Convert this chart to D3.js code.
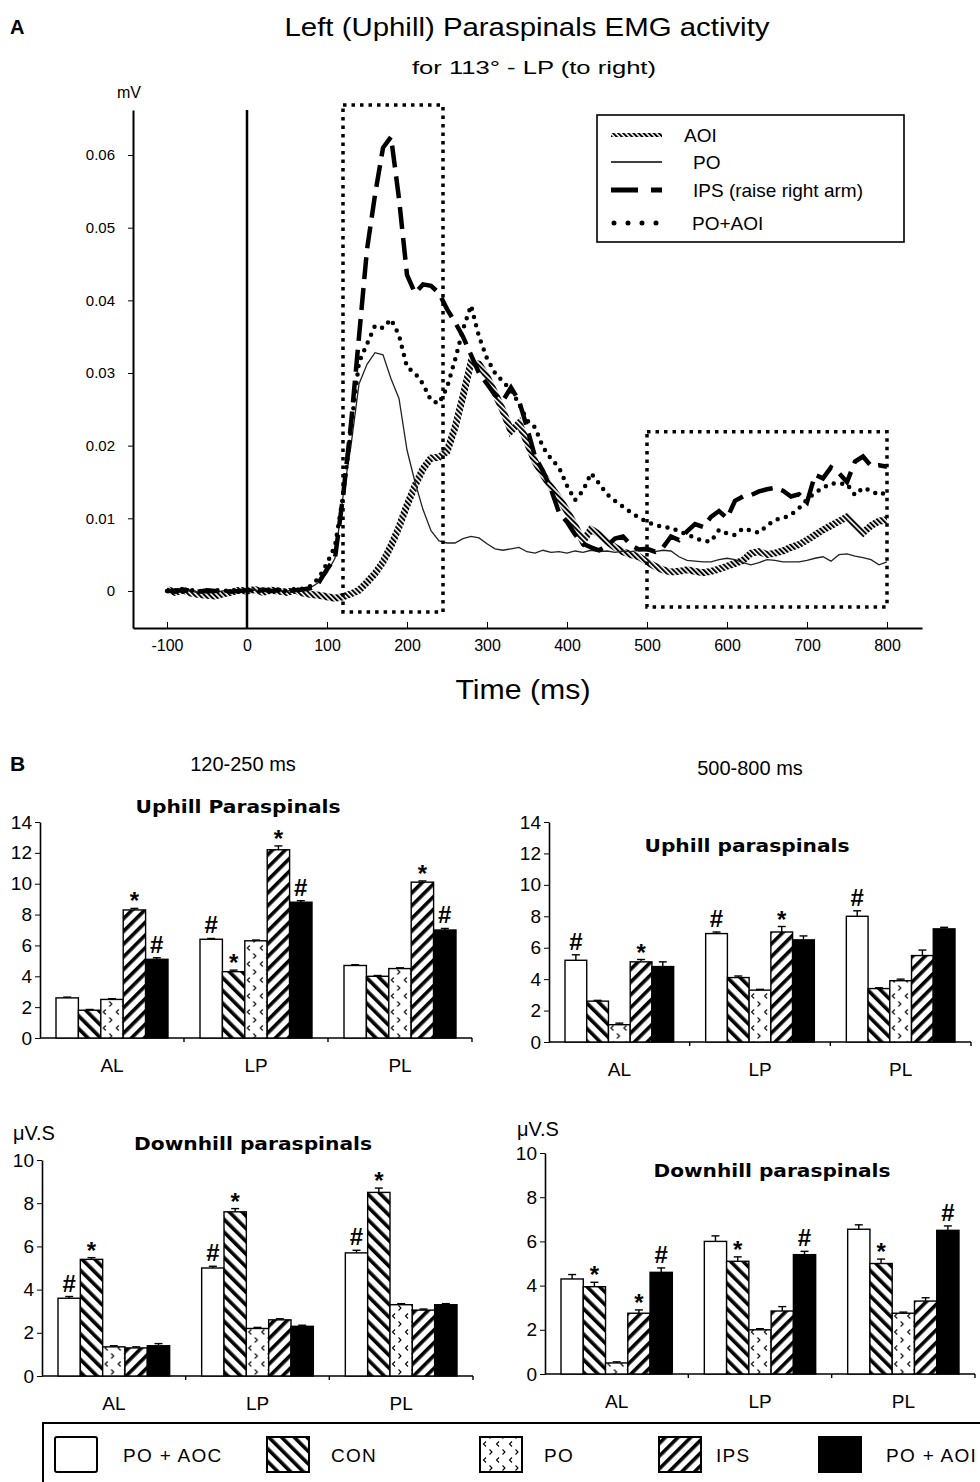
<!DOCTYPE html>
<html>
<head>
<meta charset="utf-8">
<script src="https://cdn.jsdelivr.net/npm/d3@7"></script>
<style>
  body { margin: 0; background: #fff; }
  svg { display: block; font-family: "Liberation Sans", Arial, sans-serif; }
  .narrow { font-family: "Liberation Sans Narrow", "Arial Narrow", "Liberation Sans", Arial, sans-serif; }
</style>
</head>
<body>
<div id="canvas"></div>
<script>
// ---- panel A : EMG traces (mV), one sample every 10 ms ----
var times = [
  -100, -90, -80, -70, -60, -50, -40, -30, -20, -10,
  0, 10, 20, 30, 40, 50, 60, 70, 80, 90,
  100, 110, 120, 130, 140, 150, 160, 170, 180, 190,
  200, 210, 220, 230, 240, 250, 260, 270, 280, 290,
  300, 310, 320, 330, 340, 350, 360, 370, 380, 390,
  400, 410, 420, 430, 440, 450, 460, 470, 480, 490,
  500, 510, 520, 530, 540, 550, 560, 570, 580, 590,
  600, 610, 620, 630, 640, 650, 660, 670, 680, 690,
  700, 710, 720, 730, 740, 750, 760, 770, 780, 790,
  800
];
var aoi = [
  0.0002, -0.0002, 0.0001, -0.0003, -0.0005, -0.0006, -0.0007, -0.0004, -0.0002, 0.0001,
  0.0000, 0.0002, -0.0002, 0.0001, 0.0000, -0.0002, 0.0001, -0.0003, -0.0005, -0.0006,
  -0.0008, -0.0010, -0.0008, -0.0004, 0.0001, 0.0012, 0.0024, 0.0040, 0.0062, 0.0088,
  0.0118, 0.0145, 0.0168, 0.0183, 0.0184, 0.0192, 0.0225, 0.0268, 0.0315, 0.0312,
  0.0295, 0.0272, 0.0248, 0.0220, 0.0231, 0.0205, 0.0178, 0.0160, 0.0143, 0.0128,
  0.0110, 0.0090, 0.0068, 0.0085, 0.0078, 0.0068, 0.0060, 0.0054, 0.0050, 0.0047,
  0.0040, 0.0034, 0.0029, 0.0026, 0.0027, 0.0029, 0.0027, 0.0025, 0.0027, 0.0030,
  0.0034, 0.0038, 0.0042, 0.0052, 0.0054, 0.0050, 0.0052, 0.0055, 0.0060, 0.0064,
  0.0070, 0.0077, 0.0084, 0.0090, 0.0096, 0.0102, 0.0090, 0.0080, 0.0090, 0.0096,
  0.0098
];
var po = [
  0.0001, 0.0000, 0.0002, -0.0001, -0.0002, -0.0003, -0.0002, 0.0000, 0.0001, 0.0000,
  0.0000, 0.0001, 0.0000, 0.0001, 0.0000, 0.0000, 0.0001, 0.0002, 0.0005, 0.0012,
  0.0025, 0.0045, 0.0130, 0.0200, 0.0285, 0.0312, 0.0328, 0.0325, 0.0292, 0.0265,
  0.0194, 0.0150, 0.0112, 0.0083, 0.0069, 0.0066, 0.0066, 0.0072, 0.0075, 0.0073,
  0.0065, 0.0058, 0.0056, 0.0058, 0.0060, 0.0054, 0.0052, 0.0056, 0.0053, 0.0054,
  0.0052, 0.0055, 0.0053, 0.0056, 0.0054, 0.0055, 0.0053, 0.0055, 0.0054, 0.0056,
  0.0055, 0.0054, 0.0056, 0.0055, 0.0047, 0.0042, 0.0041, 0.0040, 0.0040, 0.0043,
  0.0045, 0.0043, 0.0039, 0.0036, 0.0039, 0.0043, 0.0042, 0.0040, 0.0040, 0.0040,
  0.0042, 0.0045, 0.0047, 0.0041, 0.0050, 0.0051, 0.0048, 0.0046, 0.0043, 0.0036,
  0.0040
];
var ips = [
  0.0001, -0.0001, 0.0002, 0.0000, -0.0001, 0.0001, 0.0000, 0.0001, -0.0001, 0.0000,
  0.0001, 0.0000, 0.0002, 0.0000, 0.0001, 0.0000, 0.0001, 0.0002, 0.0004, 0.0012,
  0.0030, 0.0045, 0.0130, 0.0230, 0.0350, 0.0470, 0.0545, 0.0610, 0.0625, 0.0540,
  0.0435, 0.0410, 0.0422, 0.0420, 0.0410, 0.0388, 0.0370, 0.0350, 0.0325, 0.0300,
  0.0285, 0.0270, 0.0262, 0.0280, 0.0262, 0.0225, 0.0185, 0.0165, 0.0140, 0.0108,
  0.0095, 0.0078, 0.0065, 0.0060, 0.0056, 0.0062, 0.0072, 0.0075, 0.0063, 0.0057,
  0.0058, 0.0054, 0.0060, 0.0075, 0.0070, 0.0082, 0.0092, 0.0088, 0.0102, 0.0110,
  0.0100, 0.0124, 0.0130, 0.0132, 0.0137, 0.0140, 0.0142, 0.0138, 0.0130, 0.0133,
  0.0122, 0.0160, 0.0155, 0.0170, 0.0162, 0.0150, 0.0178, 0.0185, 0.0172, 0.0173,
  0.0171
];
var poAoi = [
  0.0000, 0.0001, -0.0001, 0.0001, 0.0000, -0.0001, 0.0001, 0.0000, 0.0001, 0.0000,
  0.0000, 0.0001, 0.0000, 0.0002, 0.0001, 0.0000, 0.0002, 0.0003, 0.0007, 0.0018,
  0.0038, 0.0062, 0.0130, 0.0225, 0.0315, 0.0340, 0.0365, 0.0362, 0.0374, 0.0352,
  0.0308, 0.0300, 0.0285, 0.0262, 0.0258, 0.0280, 0.0318, 0.0360, 0.0393, 0.0350,
  0.0320, 0.0300, 0.0288, 0.0276, 0.0258, 0.0235, 0.0225, 0.0198, 0.0182, 0.0170,
  0.0145, 0.0125, 0.0138, 0.0162, 0.0148, 0.0133, 0.0124, 0.0116, 0.0108, 0.0101,
  0.0095, 0.0091, 0.0088, 0.0087, 0.0082, 0.0078, 0.0073, 0.0069, 0.0068, 0.0084,
  0.0079, 0.0077, 0.0086, 0.0083, 0.0080, 0.0090, 0.0098, 0.0100, 0.0105, 0.0114,
  0.0126, 0.0135, 0.0142, 0.0148, 0.0148, 0.0147, 0.0132, 0.0142, 0.0138, 0.0132,
  0.0136
];
var xTicks = [-100, 0, 100, 200, 300, 400, 500, 600, 700, 800];
var yTicks = [0, 0.01, 0.02, 0.03, 0.04, 0.05, 0.06];
var windows = [[120, 245], [500, 800]];

// ---- panel B : integrated EMG (uV.s), rows = AL, LP, PL ----
var regions = ['AL', 'LP', 'PL'];
var groups = ['PO + AOC', 'CON', 'PO', 'IPS', 'PO + AOI'];

var uphillEarly = [[2.6, 1.8, 2.5, 8.3, 5.1], [6.4, 4.3, 6.3, 12.2, 8.8], [4.7, 4.0, 4.5, 10.1, 7.0]];
var uphillEarlyErr = [[0.05, 0.05, 0.05, 0.1, 0.1], [0.05, 0.1, 0.05, 0.25, 0.1], [0.05, 0.05, 0.05, 0.08, 0.1]];
var uphillEarlyMarks = [['', '', '', '*', '#'], ['#', '*', '', '*', '#'], ['', '', '', '*', '#']];

var uphillLate = [[5.2, 2.6, 1.1, 5.1, 4.8], [6.9, 4.1, 3.3, 7.0, 6.5], [8.0, 3.4, 3.9, 5.5, 7.2]];
var uphillLateErr = [[0.35, 0.05, 0.1, 0.15, 0.3], [0.1, 0.1, 0.05, 0.35, 0.25], [0.35, 0.05, 0.1, 0.35, 0.1]];
var uphillLateMarks = [['#', '', '', '*', ''], ['#', '', '', '*', ''], ['#', '', '', '', '']];

var downhillEarly = [[3.6, 5.4, 1.35, 1.3, 1.4], [5.0, 7.6, 2.2, 2.6, 2.3], [5.7, 8.5, 3.3, 3.05, 3.3]];
var downhillEarlyErr = [[0.08, 0.08, 0.05, 0.05, 0.1], [0.08, 0.15, 0.05, 0.05, 0.05], [0.12, 0.2, 0.05, 0.05, 0.05]];
var downhillEarlyMarks = [['#', '*', '', '', ''], ['#', '*', '', '', ''], ['#', '*', '', '', '']];

var downhillLate = [[4.3, 3.95, 0.5, 2.75, 4.6], [6.0, 5.1, 2.0, 2.85, 5.4], [6.55, 5.0, 2.75, 3.3, 6.5]];
var downhillLateErr = [[0.2, 0.2, 0.05, 0.15, 0.2], [0.25, 0.2, 0.05, 0.2, 0.15], [0.2, 0.2, 0.05, 0.15, 0.2]];
var downhillLateMarks = [['', '*', '', '*', '#'], ['', '*', '', '', '#'], ['', '*', '', '', '#']];

(function (d3) {
  var svg;
  var fills = ['#fff', 'url(#pat-con)', 'url(#pat-po)', 'url(#pat-ips)', '#000'];

  init();

  function init () {
    createSvg();
    createPatterns();
    createLineChart();
    createLineLegend();
    createBarPanels();
    createBarLegend();
  }

  function createSvg () {
    svg = d3.select('#canvas')
      .append('svg')
      .attr('width', 980)
      .attr('height', 1482);
  }

  function createPatterns () {
    var defs = svg.append('defs');

    // hatched stroke for the AOI trace
    defs.append('pattern')
      .attr('id', 'hatch-line')
      .attr('patternUnits', 'userSpaceOnUse')
      .attr('width', 3.6).attr('height', 3.6)
      .attr('patternTransform', 'rotate(-45)')
      .append('rect')
      .attr('width', 2).attr('height', 3.6)
      .attr('fill', '#000');

    stripe('pat-con', -45);
    stripe('pat-ips', 45);

    function stripe (id, angle) {
      var p = defs.append('pattern')
        .attr('id', id)
        .attr('patternUnits', 'userSpaceOnUse')
        .attr('width', 9).attr('height', 9)
        .attr('patternTransform', 'rotate(' + angle + ')');
      p.append('rect').attr('width', 9).attr('height', 9).attr('fill', '#fff');
      p.append('rect').attr('width', 3.6).attr('height', 9).attr('fill', '#000');
    }

    // little < > marks for PO
    var po = defs.append('pattern')
      .attr('id', 'pat-po')
      .attr('patternUnits', 'userSpaceOnUse')
      .attr('width', 13).attr('height', 16);
    po.append('rect').attr('width', 13).attr('height', 16).attr('fill', '#fff');
    po.append('path')
      .attr('d', 'M5,1.5 L2.5,4 L5,6.5 M8.5,9.5 L11,12 L8.5,14.5')
      .attr('fill', 'none')
      .attr('stroke', '#000')
      .attr('stroke-width', 1.1);
  }

  function createLineChart () {
    var x = d3.scaleLinear().domain([-142.5, 843.75]).range([133, 922]);
    var y = d3.scaleLinear().domain([-0.0051, 0.0662]).range([628, 110]);

    svg.append('text').attr('x', 10).attr('y', 34)
      .style('font-size', '20px').style('font-weight', 'bold').text('A');
    svg.append('text').attr('class', 'narrow').attr('x', 527).attr('y', 36)
      .attr('text-anchor', 'middle').style('font-size', '25px')
      .attr('textLength', 485).attr('lengthAdjust', 'spacingAndGlyphs')
      .text('Left (Uphill) Paraspinals EMG activity');
    svg.append('text').attr('class', 'narrow').attr('x', 534).attr('y', 74)
      .attr('text-anchor', 'middle').style('font-size', '18px')
      .attr('textLength', 244).attr('lengthAdjust', 'spacingAndGlyphs')
      .text('for 113° - LP (to right)');
    svg.append('text').attr('x', 117).attr('y', 98)
      .style('font-size', '16px').text('mV');

    var xAxis = svg.append('g')
      .attr('transform', 'translate(0,628)')
      .call(d3.axisBottom(x).tickValues(xTicks).tickSizeInner(-6).tickSizeOuter(0)
        .tickPadding(12).tickFormat(String));
    xAxis.selectAll('text').attr('class', 'narrow').style('font-size', '16px').attr('fill', '#000');

    var yAxis = svg.append('g')
      .attr('transform', 'translate(133,0)')
      .call(d3.axisLeft(y).tickValues(yTicks).tickSizeInner(5).tickSizeOuter(0)
        .tickPadding(13).tickFormat(function (d) { return d === 0 ? '0' : d.toFixed(2); }));
    yAxis.selectAll('text').style('font-size', '15px').attr('fill', '#000');
    svg.selectAll('.domain').attr('stroke-width', 2);

    svg.append('text').attr('class', 'narrow').attr('x', 523).attr('y', 699)
      .attr('text-anchor', 'middle').style('font-size', '27px')
      .attr('textLength', 135).attr('lengthAdjust', 'spacingAndGlyphs')
      .text('Time (ms)');

    // stimulus onset
    svg.append('line')
      .attr('x1', x(0)).attr('x2', x(0))
      .attr('y1', y(0.0662)).attr('y2', 628)
      .attr('stroke', '#000').attr('stroke-width', 2.5);

    var line = d3.line()
      .x(function (d, i) { return x(times[i]); })
      .y(function (d) { return y(d); });

    var traces = svg.append('g').attr('fill', 'none');
    traces.append('path').attr('d', line(aoi))
      .attr('stroke', 'url(#hatch-line)').attr('stroke-width', 7);
    traces.append('path').attr('d', line(po))
      .attr('stroke', '#222').attr('stroke-width', 1.3);
    traces.append('path').attr('d', line(poAoi))
      .attr('stroke', '#000').attr('stroke-width', 4.5)
      .attr('stroke-linecap', 'round').attr('stroke-dasharray', '0,8.5');
    traces.append('path').attr('d', line(ips))
      .attr('stroke', '#000').attr('stroke-width', 4.5)
      .attr('stroke-dasharray', '22,9');

    // analysis windows
    var boxTop = [0.0669, 0.0219];
    var boxBottom = [-0.0029, -0.0022];
    svg.append('g').selectAll('rect')
      .data(windows)
      .enter()
      .append('rect')
      .attr('x', function (d) { return x(d[0]); })
      .attr('width', function (d) { return x(d[1]) - x(d[0]); })
      .attr('y', function (d, i) { return y(boxTop[i]); })
      .attr('height', function (d, i) { return y(boxBottom[i]) - y(boxTop[i]); })
      .attr('fill', 'none')
      .attr('stroke', '#000')
      .attr('stroke-width', 3.5)
      .attr('stroke-dasharray', '3.5,5');
  }

  function createLineLegend () {
    var g = svg.append('g');
    g.append('rect').attr('x', 597).attr('y', 115).attr('width', 307).attr('height', 127)
      .attr('fill', '#fff').attr('stroke', '#000').attr('stroke-width', 1.6);

    var rows = [
      { label: 'AOI', y: 135, tx: 684 },
      { label: 'PO', y: 162, tx: 693 },
      { label: 'IPS (raise right arm)', y: 190, tx: 693 },
      { label: 'PO+AOI', y: 223, tx: 692 }
    ];
    g.append('line').attr('x1', 611).attr('x2', 662).attr('y1', rows[0].y).attr('y2', rows[0].y)
      .attr('stroke', 'url(#hatch-line)').attr('stroke-width', 4);
    g.append('line').attr('x1', 611).attr('x2', 662).attr('y1', rows[1].y).attr('y2', rows[1].y)
      .attr('stroke', '#000').attr('stroke-width', 1.3);
    g.append('line').attr('x1', 611).attr('x2', 662).attr('y1', rows[2].y).attr('y2', rows[2].y)
      .attr('stroke', '#000').attr('stroke-width', 5).attr('stroke-dasharray', '27,13');
    g.append('line').attr('x1', 614).attr('x2', 657).attr('y1', rows[3].y).attr('y2', rows[3].y)
      .attr('stroke', '#000').attr('stroke-width', 5).attr('stroke-linecap', 'round')
      .attr('stroke-dasharray', '0,14');

    g.selectAll('text.lbl')
      .data(rows)
      .enter()
      .append('text')
      .attr('class', 'lbl')
      .attr('x', function (d) { return d.tx; })
      .attr('y', function (d) { return d.y; })
      .attr('dy', '0.36em')
      .style('font-size', '19px')
      .text(function (d) { return d.label; });
  }

  function createBarPanels () {
    svg.append('text').attr('x', 10).attr('y', 771)
      .style('font-size', '21px').style('font-weight', 'bold').text('B');
    svg.append('text').attr('x', 243).attr('y', 771).attr('text-anchor', 'middle')
      .style('font-size', '20px').text('120-250 ms');
    svg.append('text').attr('x', 750).attr('y', 775).attr('text-anchor', 'middle')
      .style('font-size', '20px').text('500-800 ms');

    var panels = [
      { values: uphillEarly, errors: uphillEarlyErr, marks: uphillEarlyMarks, yMax: 14,
        left: 40, right: 472, base: 1038, top: 822,
        title: 'Uphill Paraspinals', tx: 238, ty: 813, tl: 205 },
      { values: uphillLate, errors: uphillLateErr, marks: uphillLateMarks, yMax: 14,
        left: 549, right: 971, base: 1042, top: 822,
        title: 'Uphill paraspinals', tx: 747, ty: 852, tl: 205 },
      { values: downhillEarly, errors: downhillEarlyErr, marks: downhillEarlyMarks, yMax: 10,
        left: 42, right: 473, base: 1376, top: 1160,
        title: 'Downhill paraspinals', tx: 253, ty: 1150, tl: 238, unitX: 13, unitY: 1140 },
      { values: downhillLate, errors: downhillLateErr, marks: downhillLateMarks, yMax: 10,
        left: 545, right: 975, base: 1374, top: 1153,
        title: 'Downhill paraspinals', tx: 772, ty: 1177, tl: 237, unitX: 517, unitY: 1136 }
    ];
    panels.forEach(drawPanel);
  }

  function drawPanel (p) {
    var g = svg.append('g');
    var y = d3.scaleLinear().domain([0, p.yMax]).range([p.base, p.top]);
    var x0 = d3.scaleBand().domain(regions).range([p.left, p.right]);
    var bw = x0.bandwidth();
    var x1 = d3.scaleBand().domain(groups).range([16, bw - 16]);

    g.append('text').attr('x', p.tx).attr('y', p.ty).attr('text-anchor', 'middle')
      .style('font-family', '"DejaVu Sans", sans-serif')
      .style('font-size', '18px').style('font-weight', 'bold')
      .attr('textLength', p.tl).attr('lengthAdjust', 'spacingAndGlyphs')
      .text(p.title);
    if (p.unitX) {
      g.append('text').attr('x', p.unitX).attr('y', p.unitY)
        .style('font-size', '20px').text('μV.S');
    }

    var yAxis = g.append('g')
      .attr('transform', 'translate(' + p.left + ',0)')
      .call(d3.axisLeft(y).tickValues(d3.range(0, p.yMax + 1, 2))
        .tickSizeInner(5).tickSizeOuter(0).tickPadding(3));
    yAxis.selectAll('text').style('font-size', '19px').attr('fill', '#000');
    yAxis.select('.domain').attr('stroke-width', 1.6);

    var xAxis = g.append('g')
      .attr('transform', 'translate(0,' + p.base + ')')
      .call(d3.axisBottom(x0).tickSize(0).tickPadding(21));
    xAxis.select('.domain').remove();
    xAxis.selectAll('text').style('font-size', '19px').attr('fill', '#000');
    g.append('line').attr('x1', p.left).attr('x2', p.right)
      .attr('y1', p.base).attr('y2', p.base)
      .attr('stroke', '#000').attr('stroke-width', 1.6);
    g.selectAll('line.div')
      .data(regions.slice(1).concat(['end']))
      .enter()
      .append('line')
      .attr('class', 'div')
      .attr('x1', function (d) { return d === 'end' ? p.right : x0(d); })
      .attr('x2', function (d) { return d === 'end' ? p.right : x0(d); })
      .attr('y1', p.base).attr('y2', p.base + 4)
      .attr('stroke', '#000').attr('stroke-width', 1.4);

    var cells = [];
    regions.forEach(function (r, ri) {
      groups.forEach(function (gr, gi) {
        cells.push({
          region: r, group: gr, gi: gi,
          value: p.values[ri][gi], err: p.errors[ri][gi], mark: p.marks[ri][gi]
        });
      });
    });

    var bars = g.append('g').selectAll('g')
      .data(cells)
      .enter()
      .append('g')
      .attr('transform', function (d) { return 'translate(' + (x0(d.region) + x1(d.group)) + ',0)'; });

    bars.append('line')
      .attr('x1', x1.bandwidth() / 2).attr('x2', x1.bandwidth() / 2)
      .attr('y1', function (d) { return y(d.value); })
      .attr('y2', function (d) { return y(d.value + d.err); })
      .attr('stroke', '#000').attr('stroke-width', 1.4);
    bars.append('line')
      .attr('x1', x1.bandwidth() / 2 - 4).attr('x2', x1.bandwidth() / 2 + 4)
      .attr('y1', function (d) { return y(d.value + d.err); })
      .attr('y2', function (d) { return y(d.value + d.err); })
      .attr('stroke', '#000').attr('stroke-width', 1.4);

    bars.append('rect')
      .attr('x', 0)
      .attr('width', x1.bandwidth())
      .attr('y', function (d) { return y(d.value); })
      .attr('height', function (d) { return p.base - y(d.value); })
      .attr('fill', function (d) { return fills[d.gi]; })
      .attr('stroke', '#000')
      .attr('stroke-width', 1.4);

    bars.filter(function (d) { return d.mark; })
      .append('text')
      .attr('x', x1.bandwidth() / 2)
      .attr('y', function (d) {
        var top = y(d.value + d.err);
        return d.mark === '*' ? top + 1 : top - 5;
      })
      .attr('text-anchor', 'middle')
      .style('font-size', '24px')
      .style('font-weight', 'bold')
      .text(function (d) { return d.mark; });
  }

  function createBarLegend () {
    var g = svg.append('g');
    g.append('rect').attr('x', 43).attr('y', 1423).attr('width', 960).attr('height', 80)
      .attr('fill', 'none').attr('stroke', '#000').attr('stroke-width', 2);

    var swatchX = [55, 267, 480, 659, 819];
    var textX = [123, 331, 544, 716, 886];
    var items = g.selectAll('g')
      .data(groups)
      .enter()
      .append('g');
    items.append('rect')
      .attr('x', function (d, i) { return swatchX[i]; })
      .attr('y', 1437)
      .attr('width', 42)
      .attr('height', 35)
      .attr('rx', function (d, i) { return i === 0 ? 2 : 0; })
      .attr('fill', function (d, i) { return fills[i]; })
      .attr('stroke', '#000')
      .attr('stroke-width', 2);
    items.append('text')
      .attr('x', function (d, i) { return textX[i]; })
      .attr('y', 1455)
      .attr('dy', '0.36em')
      .style('font-size', '19px')
      .style('letter-spacing', '1.3px')
      .text(function (d) { return d; });
  }
})(window.d3);
</script>
</body>
</html>
